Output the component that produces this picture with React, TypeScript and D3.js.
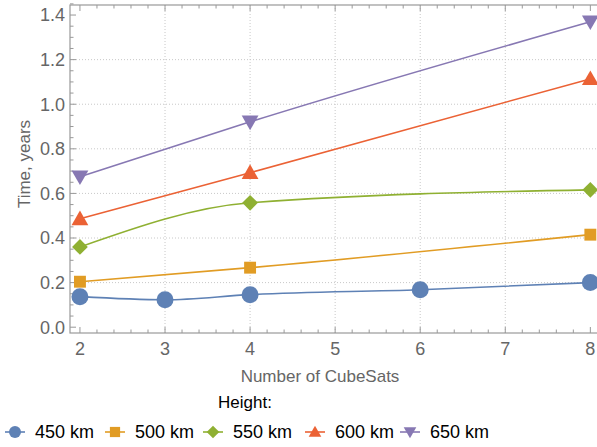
import React, { useRef, useEffect } from 'react';
import * as d3 from 'd3';

// series names and colours
const heights = ['450 km', '500 km', '550 km', '600 km', '650 km'];
const colors = ['#5E81B5', '#E19C24', '#8FB032', '#EB6235', '#8778B3'];
const shapes = ['circle', 'square', 'diamond', 'triangleUp', 'triangleDown'];

// values
const x450 = [2, 3, 4, 6, 8];
const y450 = [0.137, 0.123, 0.146, 0.168, 0.2];
const x500 = [2, 4, 8];
const y500 = [0.204, 0.267, 0.415];
const x550 = [2, 4, 8];
const y550 = [0.36, 0.558, 0.616];
const x600 = [2, 4, 8];
const y600 = [0.486, 0.693, 1.114];
const x650 = [2, 4, 8];
const y650 = [0.675, 0.921, 1.37];

const yTicks = [0, 0.2, 0.4, 0.6, 0.8, 1.0, 1.2, 1.4];
const xTicks = [2, 3, 4, 5, 6, 7, 8];

function App() {
  const ref = useRef<SVGSVGElement>(null);

  useEffect(() => {
    const W = 597, H = 447;
    const svg = d3.select(ref.current);
    svg.selectAll('*').remove();

    const left = 70, right = 598, top = 5, bottom = 333;
    const x = d3.scaleLinear().domain([1.883, 8.09]).range([left, right]);
    const y = d3.scaleLinear().domain([-0.026, 1.445]).range([bottom, top]);

    svg.append('rect').attr('width', W).attr('height', H).attr('fill', 'white');

    // grid
    const grid = svg.append('g').attr('stroke', '#c8c8c8').attr('stroke-width', 1).attr('stroke-dasharray', '1,2');
    [3, 4, 5, 6, 7].forEach(v => {
      grid.append('line').attr('x1', x(v)).attr('x2', x(v)).attr('y1', top).attr('y2', bottom);
    });
    [0.2, 0.4, 0.6, 0.8, 1.0, 1.2].forEach(v => {
      grid.append('line').attr('x1', left).attr('x2', right).attr('y1', y(v)).attr('y2', y(v));
    });

    // frame + ticks
    const frame = svg.append('g').attr('stroke', '#999').attr('fill', 'none');
    frame.append('rect').attr('x', left).attr('y', top).attr('width', right - left).attr('height', bottom - top).attr('stroke-width', 1.2);
    d3.range(2, 8.01, 0.2).forEach((v, i) => {
      const len = i % 5 === 0 ? 6 : 3.5;
      frame.append('line').attr('x1', x(v)).attr('x2', x(v)).attr('y1', bottom).attr('y2', bottom - len);
      frame.append('line').attr('x1', x(v)).attr('x2', x(v)).attr('y1', top).attr('y2', top + len);
    });
    d3.range(0, 1.4501, 0.05).forEach((v, i) => {
      const len = i % 4 === 0 ? 6 : 3.5;
      frame.append('line').attr('x1', left).attr('x2', left + len).attr('y1', y(v)).attr('y2', y(v));
    });

    const font = 'Liberation Sans, Arial, sans-serif';
    svg.append('g').selectAll('text').data(yTicks).join('text')
      .attr('x', left - 5).attr('y', d => y(d)).attr('dy', '0.35em')
      .attr('text-anchor', 'end').attr('font-family', font).attr('font-size', 18).attr('fill', '#666')
      .text(d => d.toFixed(1));
    svg.append('g').selectAll('text').data(xTicks).join('text')
      .attr('x', d => x(d)).attr('y', bottom + 22)
      .attr('text-anchor', 'middle').attr('font-family', font).attr('font-size', 18).attr('fill', '#666')
      .text(d => d);

    svg.append('text').attr('transform', `translate(30,164) rotate(-90)`)
      .attr('text-anchor', 'middle').attr('font-family', font).attr('font-size', 17).attr('fill', '#666')
      .text('Time, years');
    svg.append('text').attr('x', 320).attr('y', 382)
      .attr('text-anchor', 'middle').attr('font-family', font).attr('font-size', 17).attr('fill', '#666')
      .text('Number of CubeSats');

    const symbol = (shape: string, cx: number, cy: number, size: number, g: any, color: string) => {
      if (shape === 'circle') {
        g.append('circle').attr('cx', cx).attr('cy', cy).attr('r', size).attr('fill', color);
      } else if (shape === 'square') {
        const s = size * 0.85;
        g.append('rect').attr('x', cx - s).attr('y', cy - s).attr('width', 2 * s).attr('height', 2 * s).attr('fill', color);
      } else if (shape === 'diamond') {
        const s = size * 1.05;
        g.append('path').attr('d', `M${cx},${cy - s}L${cx + s},${cy}L${cx},${cy + s}L${cx - s},${cy}Z`).attr('fill', color);
      } else if (shape === 'triangleUp') {
        const s = size * 1.05;
        g.append('path').attr('d', `M${cx},${cy - s}L${cx + s},${cy + s * 0.75}L${cx - s},${cy + s * 0.75}Z`).attr('fill', color);
      } else {
        const s = size * 1.05;
        g.append('path').attr('d', `M${cx},${cy + s}L${cx + s},${cy - s * 0.75}L${cx - s},${cy - s * 0.75}Z`).attr('fill', color);
      }
    };

    const series = [
      [x450, y450], [x500, y500], [x550, y550], [x600, y600], [x650, y650],
    ];
    const line = d3.line<[number, number]>().x(d => x(d[0])).y(d => y(d[1])).curve(d3.curveMonotoneX);
    const plot = svg.append('g');
    series.forEach(([xs, ys], i) => {
      const pts = xs.map((v, j) => [v, ys[j]] as [number, number]);
      plot.append('path').attr('d', line(pts)).attr('fill', 'none').attr('stroke', colors[i]).attr('stroke-width', 1.6);
    });
    const sizes = [8.5, 7, 7.5, 8, 8];
    series.forEach(([xs, ys], i) => {
      xs.forEach((v, j) => symbol(shapes[i], x(v), y(ys[j]), sizes[i], plot, colors[i]));
    });

    // legend
    svg.append('text').attr('x', 245).attr('y', 408).attr('text-anchor', 'middle')
      .attr('font-family', font).attr('font-size', 17).attr('fill', '#000').text('Height:');
    const legX = [15, 115, 213, 315, 410];
    const leg = svg.append('g');
    heights.forEach((h, i) => {
      const cx = legX[i], cy = 432;
      leg.append('line').attr('x1', cx - 10).attr('x2', cx + 10).attr('y1', cy).attr('y2', cy).attr('stroke', colors[i]).attr('stroke-width', 1.6);
      symbol(shapes[i], cx, cy, 6, leg, colors[i]);
      leg.append('text').attr('x', cx + 20).attr('y', cy).attr('dy', '0.35em')
        .attr('font-family', font).attr('font-size', 18).attr('fill', '#000').text(h);
    });
  }, []);

  return <svg ref={ref} width={597} height={447} style={{ position: 'absolute', left: 0, top: 0 }} />;
}

export default App;
